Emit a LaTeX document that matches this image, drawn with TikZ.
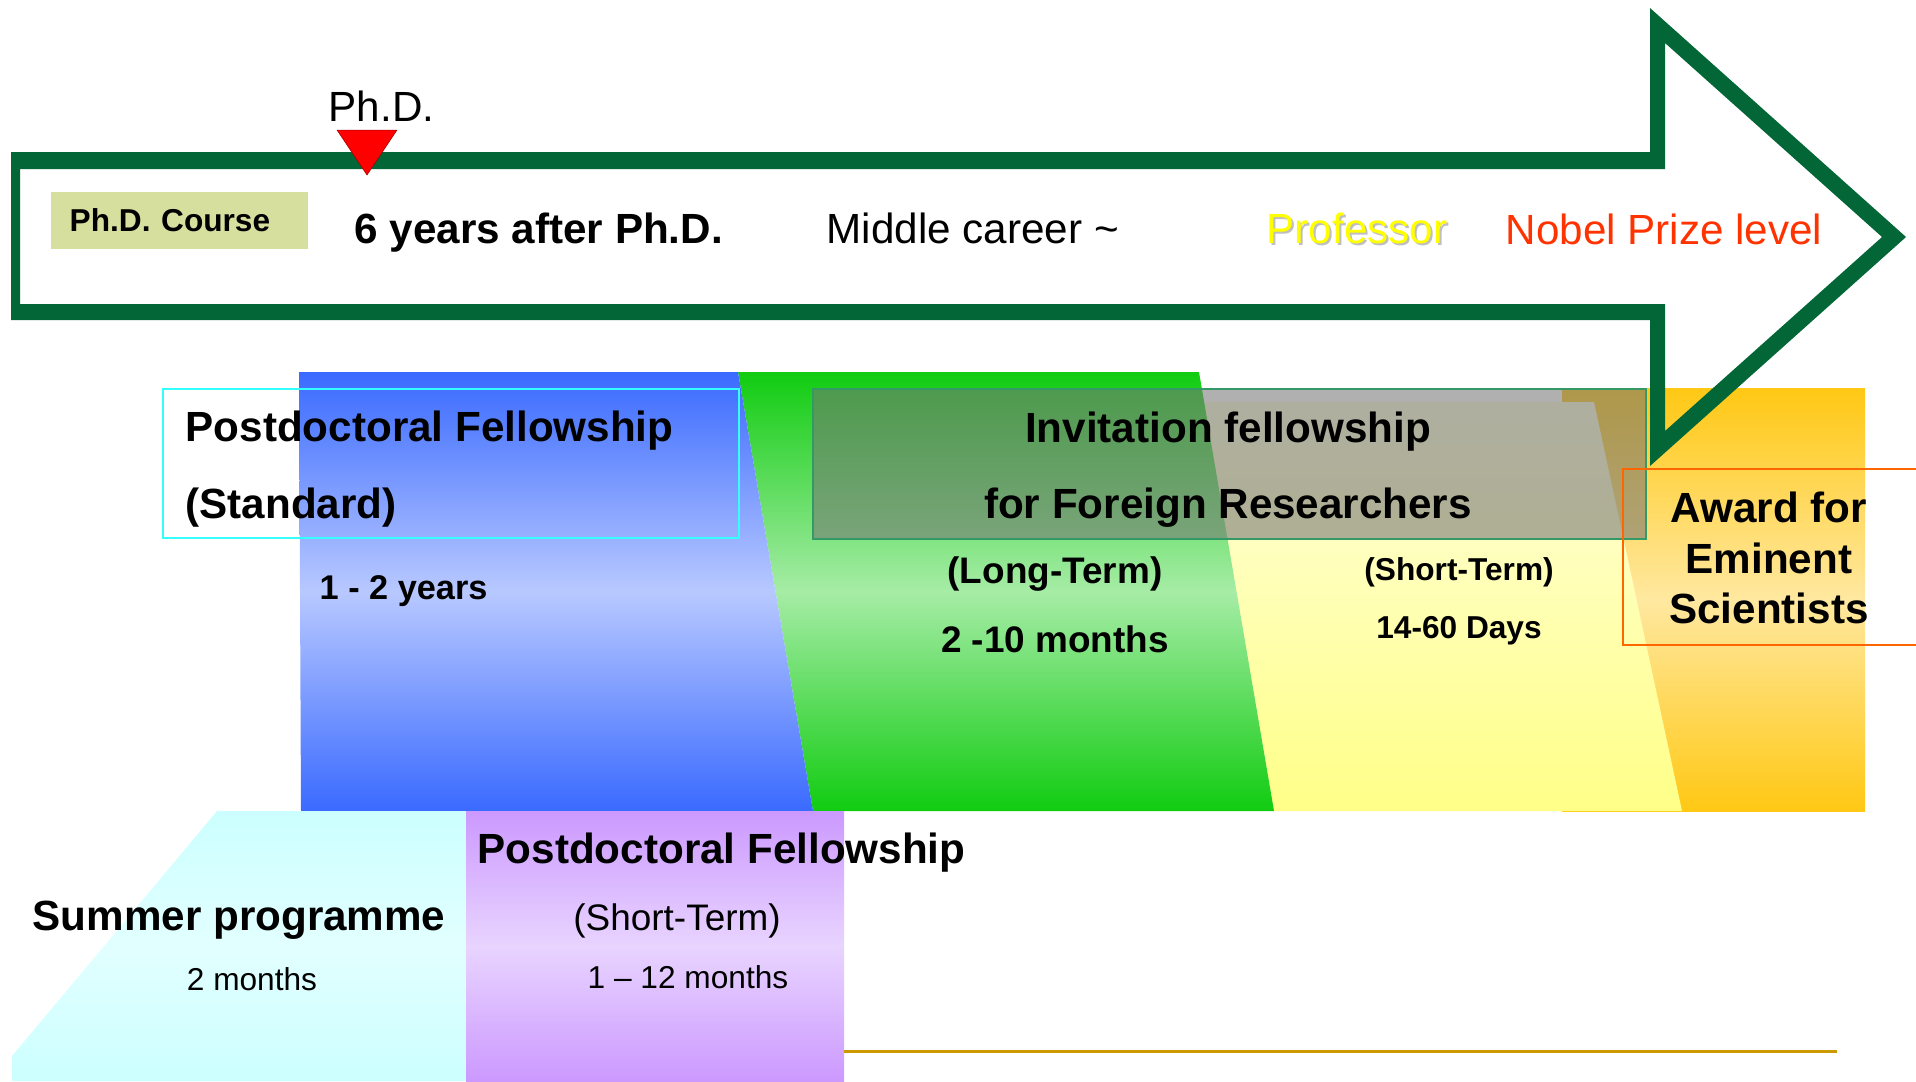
\documentclass[tikz,border=0pt]{standalone}
\usepackage{fontspec}
\setmainfont{Liberation Sans}
\usepackage{tikz}

\definecolor{arrowgreen}{RGB}{3,102,54}
\definecolor{coursefill}{RGB}{215,223,159}
\definecolor{nobelred}{RGB}{255,51,0}
\definecolor{profyellow}{RGB}{255,255,0}
\definecolor{blueedge}{RGB}{58,106,255}
\definecolor{bluemid}{RGB}{184,200,255}
\definecolor{greenedge}{RGB}{17,204,17}
\definecolor{greenmid}{RGB}{166,236,166}
\definecolor{yellowtop}{RGB}{255,255,220}
\definecolor{yellowbot}{RGB}{255,255,136}
\definecolor{goldedge}{RGB}{255,200,20}
\definecolor{goldmid}{RGB}{255,232,160}
\definecolor{cyanedge}{RGB}{204,255,255}
\definecolor{cyanmid}{RGB}{226,255,255}
\definecolor{purpleedge}{RGB}{204,153,255}
\definecolor{purplemid}{RGB}{232,212,255}
\definecolor{stdline}{RGB}{51,255,255}
\definecolor{boxline}{RGB}{51,153,102}
\definecolor{boxgray}{RGB}{116,116,116}
\definecolor{awardline}{RGB}{255,102,0}
\definecolor{rulegold}{RGB}{204,153,0}

\newcommand{\fsbig}{\fontsize{12}{14}\selectfont}
\newcommand{\fsmid}{\fontsize{10.5}{12.5}\selectfont}
\newcommand{\fsnum}{\fontsize{9.75}{11.5}\selectfont}
\newcommand{\fssmall}{\fontsize{9}{11}\selectfont}

\begin{document}
\begin{tikzpicture}[x={(0.01cm,0)}, y={(0,-0.01cm)},
    lbl/.style={inner sep=0pt, anchor=base west},
    clbl/.style={inner sep=0pt, anchor=base},
    bandshade/.style 2 args={top color=#1, bottom color=#1, middle color=#2},
    thinline/.style={line width=0.02cm}]

	\useasboundingbox (0,0) rectangle (1916,1081);

	% fellowship bands
	\path[bandshade={goldedge}{goldmid}] (1562,388) rectangle (1865,811);
	\path[top color=yellowtop, bottom color=yellowbot] (1203,402) -- (1594,402) -- (1682,811) -- (1274,811) -- cycle;
	\path[bandshade={greenedge}{greenmid}] (738,372) -- (1199,372) -- (1274,811) -- (813,811) -- cycle;
	\path[bandshade={blueedge}{bluemid}] (299,372) -- (738,372) -- (813,811) -- (301,811) -- cycle;
	\path[bandshade={cyanedge}{cyanmid}] (217,811) -- (466,811) -- (466,1081) -- (12,1081) -- (12,1056) -- cycle;
	\path[bandshade={purpleedge}{purplemid}] (466,811) rectangle (844,1081);

	% frames
	\draw[stdline, thinline] (163,389) rectangle (739,538);
	\draw[boxline, thinline, fill=boxgray, fill opacity=0.57] (813,389) rectangle (1646,539);
	\draw[awardline, thinline] (1623,469) rectangle (1930,645);
	\coordinate (rulestart) at (844,1051);
	\coordinate (ruleend) at (1837,1051);
	\draw[rulegold, line width=0.03cm] (rulestart) -- (ruleend);

	% career arrow
	\fill[arrowgreen, even odd rule]
		(11,152) -- (1650,152) -- (1650,8) -- (1906,237) -- (1650,466) -- (1650,320) -- (11,320) -- cycle
		(20,169) -- (1665,169) -- (1665,43) -- (1882,237) -- (1665,431) -- (1665,304) -- (20,304) -- cycle;
	\coordinate (mark) at (367,175);
	\filldraw[fill=red, draw=red!60!black, line width=0.005cm] (337,130) -- (397,130) -- (mark) -- cycle;

	% labels on the arrow
	\node (course) [fill=coursefill, anchor=north west, minimum height=0.57cm, text width=2.19cm,
		inner xsep=0.19cm, inner ysep=0pt, align=left, font=\fssmall\bfseries] at (50,191) {Ph.D. Course};
	\node (phd) [lbl, font=\fsbig] at (328,121) {Ph.D.};
	\node (sixyears) [lbl, font=\fsbig\bfseries] at (354,243) {6 years after Ph.D.};
	\node (middle) [lbl, font=\fsbig] at (826,243) {Middle career \textasciitilde};
	\node (profshadow) [lbl, font=\fsbig, text=black!25] at (1268,245) {Professor};
	\node (prof) [lbl, font=\fsbig, text=profyellow] at (1266,243) {Professor};
	\node (nobel) [lbl, font=\fsbig, text=nobelred] at (1505,244) {Nobel Prize level};

	% labels on the bands
	\node (postdoc) [lbl, font=\fsbig\bfseries] at (185,441) {Postdoctoral Fellowship};
	\node (standard) [lbl, font=\fsbig\bfseries] at (185,518) {(Standard)};
	\node (oneyear) [lbl, font=\fsnum\bfseries] at (319,599) {1 - 2 years};
	\node (invite) [clbl, font=\fsbig\bfseries] at (1228,442) {Invitation fellowship};
	\node (foreign) [clbl, font=\fsbig\bfseries] at (1228,518) {for Foreign Researchers};
	\node (longterm) [clbl, font=\fsmid\bfseries] at (1055,583) {(Long-Term)};
	\node (tenmonths) [clbl, font=\fsmid\bfseries] at (1055,652) {2 -10 months};
	\node (shortterm) [clbl, font=\fssmall\bfseries] at (1459,580) {(Short-Term)};
	\node (days) [clbl, font=\fssmall\bfseries] at (1459,638) {14-60 Days};
	\node (award) [clbl, font=\fsbig\bfseries] at (1769,522) {Award for};
	\node (eminent) [clbl, font=\fsbig\bfseries] at (1769,573) {Eminent};
	\node (scientists) [clbl, font=\fsbig\bfseries] at (1769,623) {Scientists};

	% short programmes
	\node (postdocshort) [lbl, font=\fsbig\bfseries] at (477,863) {Postdoctoral Fellowship};
	\node (shortbottom) [clbl, font=\fsmid] at (677,930) {(Short-Term)};
	\node (twelvemonths) [clbl, font=\fssmall] at (688,988) {1 -- 12 months};
	\node (summer) [lbl, font=\fsbig\bfseries] at (32,930) {Summer programme};
	\node (twomonths) [clbl, font=\fssmall] at (252,990) {2 months};
\end{tikzpicture}
\end{document}
